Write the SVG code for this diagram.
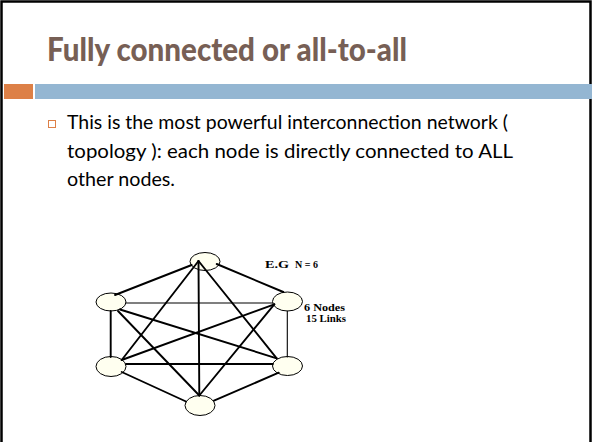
<svg xmlns="http://www.w3.org/2000/svg" width="592" height="442" viewBox="0 0 592 442">
  <style>
    .title { font-family: Lato, "Open Sans", "DejaVu Sans", sans-serif; font-weight: 900; font-size: 33px; fill: #775F55; }
    .body { font-family: Lato, "Open Sans", "DejaVu Sans", sans-serif; font-size: 19px; fill: #000000; }
    .lbl { font-family: "Liberation Serif", "DejaVu Serif", serif; font-weight: bold; font-size: 10.5px; fill: #000000; }
    .node ellipse { fill: #FFFFF0; stroke: #000000; stroke-width: 1; }
    .links line { stroke: #000000; stroke-width: 1.9; stroke-linecap: round; }
    .links line.thin { stroke-width: 1.1; }
  </style>

  <!-- slide background and frame -->
  <rect x="0" y="0" width="592" height="442" fill="#FFFFFF"/>
  <path d="M1.5,442 V1.5 H590.5 V442" fill="none" stroke="#000000" stroke-width="2.5"/>

  <!-- title -->
  <text class="title" x="47" y="61" textLength="360" lengthAdjust="spacingAndGlyphs">Fully connected or all-to-all</text>

  <!-- accent bars under the title -->
  <rect x="4" y="84" width="29" height="15" fill="#DD8047"/>
  <rect x="35" y="84" width="557" height="15" fill="#94B6D2"/>

  <!-- bullet text -->
  <rect x="48.5" y="120.5" width="7" height="7" fill="#FFFFFF" stroke="#DD8047" stroke-width="1"/>
  <text class="body" x="67" y="129" textLength="441" lengthAdjust="spacingAndGlyphs">This is the most powerful interconnection network (</text>
  <text class="body" x="67" y="158" textLength="446" lengthAdjust="spacingAndGlyphs">topology ): each node is directly connected to ALL</text>
  <text class="body" x="67" y="186" textLength="108" lengthAdjust="spacingAndGlyphs">other nodes.</text>

  <!-- nodes -->
  <g id="node-top" class="node"><ellipse cx="205" cy="261.5" rx="15" ry="9"/></g>
  <g id="node-upper-left" class="node"><ellipse cx="111" cy="302" rx="15" ry="9"/></g>
  <g id="node-upper-right" class="node"><ellipse cx="287.5" cy="301.5" rx="15" ry="9.5"/></g>
  <g id="node-lower-left" class="node"><ellipse cx="111" cy="366.5" rx="15" ry="10"/></g>
  <g id="node-lower-right" class="node"><ellipse cx="287.5" cy="366" rx="15" ry="9.5"/></g>
  <g id="node-bottom" class="node"><ellipse cx="200" cy="405.5" rx="15" ry="10"/></g>

  <!-- links: every node to every other node (15) -->
  <g id="links" class="links">
    <line x1="191.7" y1="265" x2="115" y2="295"/>
    <line x1="216.7" y1="264" x2="283.3" y2="292"/>
    <line x1="198.5" y1="261" x2="121.7" y2="360"/>
    <line x1="198.5" y1="261" x2="276.7" y2="358.3"/>
    <line x1="198.5" y1="261" x2="199.3" y2="395.5"/>
    <line class="thin" x1="126" y1="303" x2="272.7" y2="303"/>
    <line x1="110.7" y1="311" x2="110.7" y2="357"/>
    <line x1="120" y1="309.5" x2="276.7" y2="358.3"/>
    <line x1="118" y1="311" x2="199.3" y2="395.5"/>
    <line x1="274.3" y1="304.3" x2="121.7" y2="360"/>
    <line class="thin" x1="287.3" y1="311" x2="287.3" y2="357"/>
    <line x1="274.3" y1="304.3" x2="199.3" y2="395.5"/>
    <line x1="126" y1="364" x2="272.7" y2="364"/>
    <line x1="121.7" y1="372" x2="186" y2="401.5"/>
    <line x1="278.7" y1="372.7" x2="214" y2="400.7"/>
  </g>

  <!-- annotations -->
  <text class="lbl" x="265" y="268" textLength="24" lengthAdjust="spacingAndGlyphs">E.G</text>
  <text class="lbl" x="295" y="268" textLength="23" lengthAdjust="spacingAndGlyphs">N = 6</text>
  <text class="lbl" x="304" y="311" textLength="41" lengthAdjust="spacingAndGlyphs">6 Nodes</text>
  <text class="lbl" x="306" y="322" textLength="40" lengthAdjust="spacingAndGlyphs">15 Links</text>
</svg>
